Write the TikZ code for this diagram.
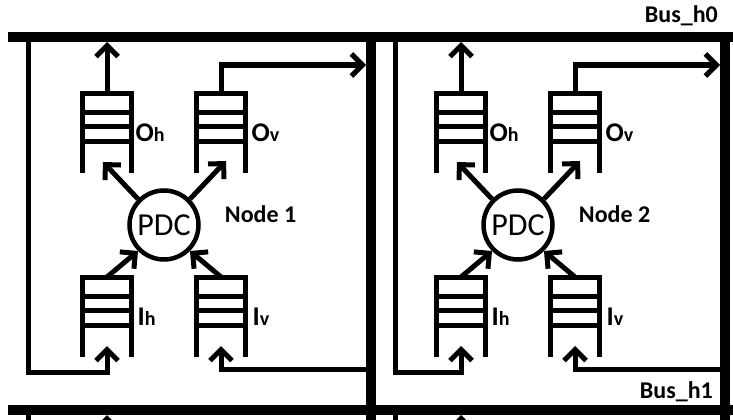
\documentclass[tikz,border=0pt]{standalone}
\usepackage{fontspec}
\setmainfont{Carlito}
\usepackage{tikz}
\usetikzlibrary{arrows.meta, positioning, calc}
\newcommand{\qsub}[1]{{\fontsize{20}{20}\selectfont #1}}

\begin{document}
\begin{tikzpicture}[
  x=1pt, y=-1pt,
  bus/.style={line width=10pt},
  wire/.style={line width=5pt},
  arr/.style={wire,-{Straight Barb[length=11pt,width=22pt]}},
  queue/.style={minimum width=49pt,minimum height=80pt,inner sep=0pt,outer sep=0pt},
  pdcnode/.style={circle,draw,line width=4.5pt,minimum size=69pt,inner sep=0pt,
              font=\fontsize{32}{32}\selectfont},
  qlbl/.style={inner sep=0pt,font=\fontsize{27}{27}\selectfont\bfseries},
  nlbl/.style={inner sep=0pt,font=\fontsize{24}{24}\selectfont\bfseries},
  blbl/.style={inner sep=0pt,font=\fontsize{24}{24}\selectfont\bfseries}
]
  \clip (0,0) rectangle (733,420);
  % horizontal buses
  \coordinate (h0) at (0,42);
  \draw[bus] (8,37) -- (745,37);
  \draw[bus] (8,410) -- (745,410);
  \node[blbl,anchor=base east] (bh0) at (718,23) {Bus\_h0};
  \node[blbl,anchor=base east] (bh1) at (713,398) {Bus\_h1};

  \foreach \n/\dx/\lw in {1/0/28,2/354/395} {
    % vertical bus
    \draw[bus] (371+\dx,37) -- (371+\dx,430);
    \node[pdcnode] (pdc\n) at (164+\dx,225) {PDC};
    \node[nlbl,right=24pt of pdc\n,yshift=11pt] (nl\n) {Node \n};
    \node[queue] (oh\n) at (107+\dx,133) {};
    \node[queue] (ov\n) at (221+\dx,133) {};
    \node[queue] (ih\n) at (107+\dx,317) {};
    \node[queue] (iv\n) at (221+\dx,317) {};
    \node[qlbl,right=4pt of oh\n] (ohl\n) {O\qsub{h}};
    \node[qlbl,right=6pt of ov\n] (ovl\n) {O\qsub{v}};
    \node[qlbl,right=6pt of ih\n] (ihl\n) {I\qsub{h}};
    \node[qlbl,right=7pt of iv\n] (ivl\n) {I\qsub{v}};
    \foreach \q in {oh,ov,ih,iv} {
      \draw[wire] (\q\n.south west) -- (\q\n.north west)
        -- (\q\n.north east) -- (\q\n.south east);
      \foreach \f in {0.24,0.42,0.6}
        \draw[wire] ($(\q\n.north west)!\f!(\q\n.south west)$)
          -- ($(\q\n.north east)!\f!(\q\n.south east)$);
    }
    \coordinate (ohp\n) at ($(oh\n.south)+(-4,-11)$);
    \coordinate (ovp\n) at ($(ov\n.south)+(5,-12)$);
    \coordinate (ihin\n) at ($(ih\n.south)+(0,-11)$);
    \coordinate (ivin\n) at ($(iv\n.south)+(0,-11)$);
    \coordinate (vin\n) at (366+\dx,65);
    \coordinate (vout\n) at (371+\dx,369);
    \coordinate (lw\n) at (\lw,37);
    \draw[arr] (oh\n.north) -- (oh\n.north |- h0);
    \draw[arr] (ov\n.north) |- (vin\n);
    \draw[arr] (pdc\n.135) -- (ohp\n);
    \draw[arr] (pdc\n.45) -- (ovp\n);
    \draw[arr] (ih\n.north) -- (pdc\n.225);
    \draw[arr] (iv\n.north) -- (pdc\n.315);
    \draw[arr] (lw\n) -- ++(0,335) -| (ihin\n);
    \draw[arr] (vout\n) -| (ivin\n);
    % next row
    \coordinate (nw\n) at (\lw,410);
    \coordinate (nx\n) at (107+\dx,415);
    \coordinate (nxs\n) at (107+\dx,450);
    \draw[wire] (nw\n) -- ++(0,20);
    \draw[arr] (nxs\n) -- (nx\n);
  }
\end{tikzpicture}
\end{document}
